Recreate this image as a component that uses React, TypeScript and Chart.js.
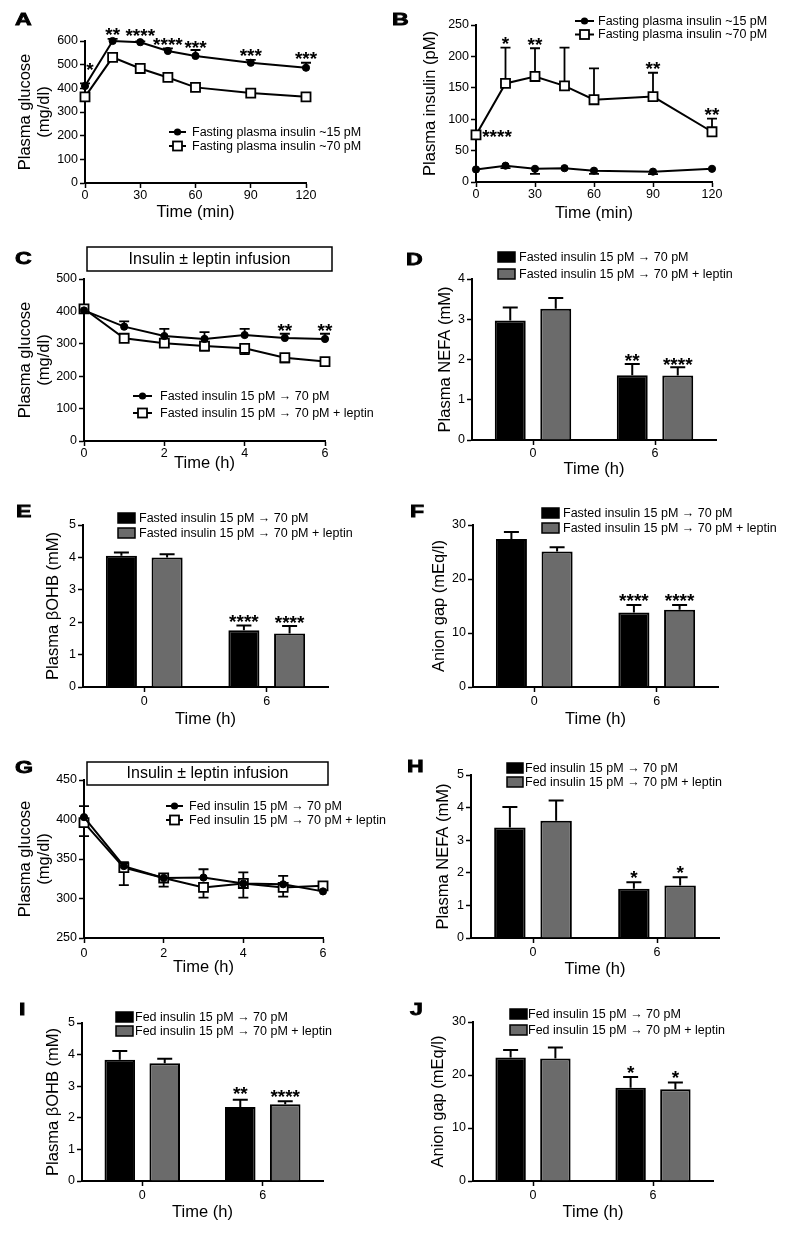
import React, { useEffect, useRef } from 'react';
import { Chart, registerables } from 'chart.js';

Chart.register(...registerables);

const FONT = '"Liberation Sans", Arial, Helvetica, sans-serif';
const GRAY = '#6b6b6b';
Chart.defaults.font.family = FONT;
Chart.defaults.color = '#000';

// ---------------- DATA ----------------
// Panel A (glucose during test, min)
const timeMin = [0, 15, 30, 45, 60, 90, 120];
const aGlucoseLow = [410, 600, 595, 558, 537, 508, 487];
const aGlucoseLowSem = [11, 9, 3, 11, 25, 12, 21];
const aGlucoseHigh = [364, 531, 484, 446, 404, 380, 364];

// Panel B (insulin, pM)
const bInsulinLow = [20, 26, 21, 22, 18, 16.5, 21];
const bInsulinLowSem = [0, 4, 8, 0, 5, 4, 0];
const bInsulinHigh = [75, 157, 168, 153, 131, 136, 80];
const bInsulinHighSem = [0, 57, 45, 61, 50, 38, 21];

// Panel C (fasted, glucose, h)
const timeH = [0, 1, 2, 3, 4, 5, 6];
const cGlucoseIns = [403, 353, 324, 315, 327, 318, 315];
const cGlucoseInsSem = [12, 16, 22, 21, 19, 13, 16];
const cGlucoseLep = [408, 317, 302, 293, 286, 257, 245];
const cGlucoseLepSem = [0, 0, 0, 14, 18, 14, 11];

// Bar categories (h)
const barHours = ['0', '6'];

// Panel D (NEFA, fasted)
const dNefaIns = [2.97, 1.61];
const dNefaInsSem = [0.32, 0.28];
const dNefaLep = [3.26, 1.6];
const dNefaLepSem = [0.27, 0.21];

// Panel E (bOHB, fasted)
const eBohbIns = [4.05, 1.75];
const eBohbInsSem = [0.1, 0.15];
const eBohbLep = [4.0, 1.65];
const eBohbLepSem = [0.1, 0.23];

// Panel F (anion gap, fasted)
const fGapIns = [27.4, 13.8];
const fGapInsSem = [1.3, 1.4];
const fGapLep = [25.1, 14.3];
const fGapLepSem = [0.8, 0.9];

// Panel G (fed, glucose)
const gGlucoseIns = [403, 341, 326, 326.5, 319, 318, 309];
const gGlucoseInsSem = [14, 5, 4, 10.5, 14, 10.6, 0];
const gGlucoseLep = [396, 339, 326, 314, 319, 314, 316];
const gGlucoseLepSem = [17, 22, 11, 13, 18, 11.5, 0];

// Panel H (NEFA, fed)
const hNefaIns = [3.39, 1.51];
const hNefaInsSem = [0.63, 0.2];
const hNefaLep = [3.6, 1.61];
const hNefaLepSem = [0.62, 0.25];

// Panel I (bOHB, fed)
const iBohbIns = [3.84, 2.34];
const iBohbInsSem = [0.27, 0.23];
const iBohbLep = [3.73, 2.43];
const iBohbLepSem = [0.14, 0.09];

// Panel J (anion gap, fed)
const jGapIns = [23.3, 17.6];
const jGapInsSem = [1.4, 2.0];
const jGapLep = [23.1, 17.3];
const jGapLepSem = [2.1, 1.3];

// Labels
const LEG_FAST_15 = 'Fasting plasma insulin ~15 pM';
const LEG_FAST_70 = 'Fasting plasma insulin ~70 pM';
const LEG_FASTED = 'Fasted insulin 15 pM \u2192 70 pM';
const LEG_FASTED_LEP = 'Fasted insulin 15 pM \u2192 70 pM + leptin';
const LEG_FED = 'Fed insulin 15 pM \u2192 70 pM';
const LEG_FED_LEP = 'Fed insulin 15 pM \u2192 70 pM + leptin';
const BANNER = 'Insulin \u00b1 leptin infusion';
const T_GLUCOSE = ['Plasma glucose', '(mg/dl)'];
const T_INSULIN = 'Plasma insulin (pM)';
const T_NEFA = 'Plasma NEFA (mM)';
const T_BOHB = 'Plasma \u03b2OHB (mM)';
const T_GAP = 'Anion gap (mEq/l)';
const T_MIN = 'Time (min)';
const T_H = 'Time (h)';

// ---------------- TYPES ----------------
type Rect = { l: number; t: number; w: number; h: number };
type Box = { l: number; t: number; r: number; b: number };
interface Series {
  label: string;
  data: number[];
  errUp?: number[];
  errDown?: number[];
  marker?: 'circle' | 'square';
  color?: string;
}
interface Star { ds: number; i: number; text: string; dx?: number; dy?: number }
interface PanelSpec {
  letter: string;
  letterPos: [number, number];
  kind: 'line' | 'bar';
  box: Rect;
  plot: Box;
  xValues?: number[];
  xMin?: number;
  xMax?: number;
  xStep?: number;
  categories?: string[];
  yMin: number;
  yMax: number;
  yStep: number;
  yTitle: string | string[];
  xTitle: string;
  yTitleCx: number;
  xTitleCy: number;
  xTickCy: number;
  series: Series[];
  stars: Star[];
  legend: { x0: number; x1: number; tx: number; rows: number[] };
  banner?: Box;
}

// ---------------- PANELS ----------------
const panels: PanelSpec[] = [
  {
    letter: 'A', letterPos: [15, 13], kind: 'line',
    box: { l: 0, t: 0, w: 390, h: 230 }, plot: { l: 85, t: 41, r: 306, b: 183 },
    xValues: timeMin, xMin: 0, xMax: 120, xStep: 30, yMin: 0, yMax: 600, yStep: 100,
    yTitle: T_GLUCOSE, xTitle: T_MIN, yTitleCx: 25, xTitleCy: 212, xTickCy: 194.3,
    series: [
      { label: LEG_FAST_15, data: aGlucoseLow, errUp: aGlucoseLowSem, marker: 'circle' },
      { label: LEG_FAST_70, data: aGlucoseHigh, marker: 'square' },
    ],
    stars: [
      { ds: 0, i: 0, text: '*', dx: 5, dy: -18 },
      { ds: 0, i: 1, text: '**' },
      { ds: 0, i: 2, text: '****', dy: -10 },
      { ds: 0, i: 3, text: '****' },
      { ds: 0, i: 4, text: '***', dy: -6 },
      { ds: 0, i: 5, text: '***' },
      { ds: 0, i: 6, text: '***' },
    ],
    legend: { x0: 169, x1: 186, tx: 192, rows: [132, 146] },
  },
  {
    letter: 'B', letterPos: [392, 13], kind: 'line',
    box: { l: 390, t: 0, w: 397, h: 230 }, plot: { l: 476, t: 25, r: 712, b: 182 },
    xValues: timeMin, xMin: 0, xMax: 120, xStep: 30, yMin: 0, yMax: 250, yStep: 50,
    yTitle: T_INSULIN, xTitle: T_MIN, yTitleCx: 430, xTitleCy: 213, xTickCy: 194.3,
    series: [
      { label: LEG_FAST_15, data: bInsulinLow, errDown: bInsulinLowSem, marker: 'circle' },
      { label: LEG_FAST_70, data: bInsulinHigh, errUp: bInsulinHighSem, marker: 'square' },
    ],
    stars: [
      { ds: 1, i: 0, text: '****', dx: 21, dy: -2 },
      { ds: 1, i: 1, text: '*' },
      { ds: 1, i: 2, text: '**' },
      { ds: 1, i: 5, text: '**' },
      { ds: 1, i: 6, text: '**' },
    ],
    legend: { x0: 575, x1: 594, tx: 598, rows: [21, 34.5] },
  },
  {
    letter: 'C', letterPos: [15, 252], kind: 'line',
    box: { l: 0, t: 230, w: 390, h: 250 }, plot: { l: 84, t: 279, r: 325, b: 441 },
    xValues: timeH, xMin: 0, xMax: 6, xStep: 2, yMin: 0, yMax: 500, yStep: 100,
    yTitle: T_GLUCOSE, xTitle: T_H, yTitleCx: 25, xTitleCy: 463, xTickCy: 450,
    series: [
      { label: LEG_FASTED, data: cGlucoseIns, errUp: cGlucoseInsSem, marker: 'circle' },
      { label: LEG_FASTED_LEP, data: cGlucoseLep, errDown: cGlucoseLepSem, marker: 'square' },
    ],
    stars: [
      { ds: 0, i: 5, text: '**', dy: -7 },
      { ds: 0, i: 6, text: '**', dy: -7 },
    ],
    legend: { x0: 133, x1: 152, tx: 160, rows: [396, 413] },
    banner: { l: 87, t: 247, r: 332, b: 271 },
  },
  {
    letter: 'D', letterPos: [406, 253], kind: 'bar',
    box: { l: 390, t: 230, w: 397, h: 250 }, plot: { l: 472, t: 279, r: 716, b: 440 },
    categories: barHours, yMin: 0, yMax: 4, yStep: 1,
    yTitle: T_NEFA, xTitle: T_H, yTitleCx: 445, xTitleCy: 469, xTickCy: 453.3,
    series: [
      { label: LEG_FASTED, data: dNefaIns, errUp: dNefaInsSem, color: '#000' },
      { label: LEG_FASTED_LEP, data: dNefaLep, errUp: dNefaLepSem, color: GRAY },
    ],
    stars: [
      { ds: 0, i: 1, text: '**', dy: -7 },
      { ds: 1, i: 1, text: '****', dy: -7 },
    ],
    legend: { x0: 498, x1: 515, tx: 519, rows: [257, 274] },
  },
  {
    letter: 'E', letterPos: [16, 505], kind: 'bar',
    box: { l: 0, t: 480, w: 390, h: 255 }, plot: { l: 83, t: 525, r: 328, b: 687 },
    categories: barHours, yMin: 0, yMax: 5, yStep: 1,
    yTitle: T_BOHB, xTitle: T_H, yTitleCx: 53, xTitleCy: 719, xTickCy: 701.7,
    series: [
      { label: LEG_FASTED, data: eBohbIns, errUp: eBohbInsSem, color: '#000' },
      { label: LEG_FASTED_LEP, data: eBohbLep, errUp: eBohbLepSem, color: GRAY },
    ],
    stars: [
      { ds: 0, i: 1, text: '****' },
      { ds: 1, i: 1, text: '****' },
    ],
    legend: { x0: 118, x1: 135, tx: 139, rows: [518, 533] },
  },
  {
    letter: 'F', letterPos: [410, 505], kind: 'bar',
    box: { l: 390, t: 480, w: 397, h: 255 }, plot: { l: 473, t: 525, r: 718, b: 687 },
    categories: barHours, yMin: 0, yMax: 30, yStep: 10,
    yTitle: T_GAP, xTitle: T_H, yTitleCx: 439, xTitleCy: 719, xTickCy: 701.7,
    series: [
      { label: LEG_FASTED, data: fGapIns, errUp: fGapInsSem, color: '#000' },
      { label: LEG_FASTED_LEP, data: fGapLep, errUp: fGapLepSem, color: GRAY },
    ],
    stars: [
      { ds: 0, i: 1, text: '****' },
      { ds: 1, i: 1, text: '****' },
    ],
    legend: { x0: 542, x1: 559, tx: 563, rows: [513, 528] },
  },
  {
    letter: 'G', letterPos: [15, 761], kind: 'line',
    box: { l: 0, t: 735, w: 390, h: 250 }, plot: { l: 84, t: 780, r: 323, b: 938 },
    xValues: timeH, xMin: 0, xMax: 6, xStep: 2, yMin: 250, yMax: 450, yStep: 50,
    yTitle: T_GLUCOSE, xTitle: T_H, yTitleCx: 25, xTitleCy: 967, xTickCy: 953.3,
    series: [
      { label: LEG_FED, data: gGlucoseIns, errUp: gGlucoseInsSem, marker: 'circle' },
      { label: LEG_FED_LEP, data: gGlucoseLep, errDown: gGlucoseLepSem, marker: 'square' },
    ],
    stars: [],
    legend: { x0: 166, x1: 183, tx: 189, rows: [806, 820] },
    banner: { l: 87, t: 762, r: 328, b: 785 },
  },
  {
    letter: 'H', letterPos: [407, 760], kind: 'bar',
    box: { l: 390, t: 735, w: 397, h: 250 }, plot: { l: 471, t: 775, r: 719, b: 938 },
    categories: barHours, yMin: 0, yMax: 5, yStep: 1,
    yTitle: T_NEFA, xTitle: T_H, yTitleCx: 443, xTitleCy: 969, xTickCy: 952.7,
    series: [
      { label: LEG_FED, data: hNefaIns, errUp: hNefaInsSem, color: '#000' },
      { label: LEG_FED_LEP, data: hNefaLep, errUp: hNefaLepSem, color: GRAY },
    ],
    stars: [
      { ds: 0, i: 1, text: '*', dy: -9 },
      { ds: 1, i: 1, text: '*', dy: -9 },
    ],
    legend: { x0: 507, x1: 523, tx: 525, rows: [768, 782] },
  },
  {
    letter: 'I', letterPos: [19, 1003], kind: 'bar',
    box: { l: 0, t: 985, w: 390, h: 254 }, plot: { l: 82, t: 1023, r: 323, b: 1181 },
    categories: barHours, yMin: 0, yMax: 5, yStep: 1,
    yTitle: T_BOHB, xTitle: T_H, yTitleCx: 53, xTitleCy: 1212.7, xTickCy: 1196,
    series: [
      { label: LEG_FED, data: iBohbIns, errUp: iBohbInsSem, color: '#000' },
      { label: LEG_FED_LEP, data: iBohbLep, errUp: iBohbLepSem, color: GRAY },
    ],
    stars: [
      { ds: 0, i: 1, text: '**', dy: -10 },
      { ds: 1, i: 1, text: '****', dy: -9 },
    ],
    legend: { x0: 116, x1: 133, tx: 135, rows: [1017, 1031] },
  },
  {
    letter: 'J', letterPos: [410, 1003], kind: 'bar',
    box: { l: 390, t: 985, w: 397, h: 254 }, plot: { l: 473, t: 1022, r: 713, b: 1181 },
    categories: barHours, yMin: 0, yMax: 30, yStep: 10,
    yTitle: T_GAP, xTitle: T_H, yTitleCx: 438, xTitleCy: 1212.7, xTickCy: 1196,
    series: [
      { label: LEG_FED, data: jGapIns, errUp: jGapInsSem, color: '#000' },
      { label: LEG_FED_LEP, data: jGapLep, errUp: jGapLepSem, color: GRAY },
    ],
    stars: [
      { ds: 0, i: 1, text: '*', dy: -9 },
      { ds: 1, i: 1, text: '*', dy: -9 },
    ],
    legend: { x0: 510, x1: 527, tx: 528, rows: [1014, 1030] },
  },
];

// ---------------- DRAW HELPERS ----------------
const TICK_FONT = 12.5;
const TITLE_FONT = 16.5;
const LEGEND_FONT = 12.5;
const STAR_FONT = 19;
const TICK_LEN = 5;

function drawMarker(ctx: CanvasRenderingContext2D, kind: 'circle' | 'square', x: number, y: number) {
  ctx.save();
  if (kind === 'circle') {
    ctx.fillStyle = '#000';
    ctx.beginPath();
    ctx.arc(x, y, 3.6, 0, Math.PI * 2);
    ctx.fill();
  } else {
    ctx.fillStyle = '#fff';
    ctx.strokeStyle = '#000';
    ctx.lineWidth = 1.8;
    ctx.fillRect(x - 4.5, y - 4.5, 9, 9);
    ctx.strokeRect(x - 4.5, y - 4.5, 9, 9);
  }
  ctx.restore();
}

function decorPlugin(p: PanelSpec) {
  return {
    id: 'decor' + p.letter,
    beforeDatasetsDraw(chart: any) {
      const ctx: CanvasRenderingContext2D = chart.ctx;
      const ys = chart.scales.y;
      ctx.save();
      ctx.strokeStyle = '#000';
      const cap = p.kind === 'bar' ? 7.5 : 5;
      ctx.lineWidth = p.kind === 'bar' ? 2 : 1.8;
      p.series.forEach((s, di) => {
        const meta = chart.getDatasetMeta(di);
        s.data.forEach((v, i) => {
          const el = meta.data[i];
          if (!el) return;
          const x = el.x;
          const y0 = ys.getPixelForValue(v);
          const seg = (val: number) => {
            const yy = ys.getPixelForValue(val);
            ctx.beginPath();
            ctx.moveTo(x, y0);
            ctx.lineTo(x, yy);
            ctx.moveTo(x - cap, yy);
            ctx.lineTo(x + cap, yy);
            ctx.stroke();
          };
          if (s.errUp && s.errUp[i] > 0) seg(v + s.errUp[i]);
          if (s.errDown && s.errDown[i] > 0) seg(v - s.errDown[i]);
        });
      });
      ctx.restore();
    },
    afterDatasetsDraw(chart: any) {
      const ctx: CanvasRenderingContext2D = chart.ctx;
      const ys = chart.scales.y;
      ctx.save();
      ctx.fillStyle = '#000';
      ctx.font = `bold ${STAR_FONT}px ${FONT}`;
      ctx.textAlign = 'center';
      ctx.textBaseline = 'alphabetic';
      p.stars.forEach((st) => {
        const s = p.series[st.ds];
        const el = chart.getDatasetMeta(st.ds).data[st.i];
        if (!el) return;
        const up = s.errUp ? s.errUp[st.i] || 0 : 0;
        const ay = ys.getPixelForValue(s.data[st.i] + up);
        const cx = el.x + (st.dx || 0);
        const cy = ay + (st.dy === undefined ? -8 : st.dy);
        ctx.fillText(st.text, cx, cy + 0.55 * STAR_FONT);
      });
      ctx.restore();
    },
    afterDraw(chart: any) {
      const ctx: CanvasRenderingContext2D = chart.ctx;
      const ox = p.box.l;
      const oy = p.box.t;
      ctx.save();
      // legend
      const lg = p.legend;
      p.series.forEach((s, k) => {
        const y = lg.rows[k] - oy;
        const x0 = lg.x0 - ox;
        const x1 = lg.x1 - ox;
        if (p.kind === 'line') {
          ctx.strokeStyle = '#000';
          ctx.lineWidth = 2;
          ctx.beginPath();
          ctx.moveTo(x0, y);
          ctx.lineTo(x1, y);
          ctx.stroke();
          drawMarker(ctx, s.marker || 'circle', (x0 + x1) / 2, y);
        } else {
          ctx.fillStyle = s.color || '#000';
          ctx.fillRect(x0, y - 5, x1 - x0, 10);
          ctx.strokeStyle = '#000';
          ctx.lineWidth = 1.5;
          ctx.strokeRect(x0, y - 5, x1 - x0, 10);
        }
        ctx.fillStyle = '#000';
        ctx.font = `${LEGEND_FONT}px ${FONT}`;
        ctx.textAlign = 'left';
        ctx.textBaseline = 'middle';
        ctx.fillText(s.label, lg.tx - ox, y + 0.5);
      });
      // banner
      if (p.banner) {
        const b = p.banner;
        ctx.fillStyle = '#fff';
        ctx.fillRect(b.l - ox, b.t - oy, b.r - b.l, b.b - b.t);
        ctx.strokeStyle = '#000';
        ctx.lineWidth = 1.5;
        ctx.strokeRect(b.l - ox, b.t - oy, b.r - b.l, b.b - b.t);
        ctx.fillStyle = '#000';
        ctx.font = `16px ${FONT}`;
        ctx.textAlign = 'center';
        ctx.textBaseline = 'middle';
        ctx.fillText(BANNER, (b.l + b.r) / 2 - ox, (b.t + b.b) / 2 - oy + 0.5);
      }
      ctx.restore();
    },
  };
}

function buildConfig(p: PanelSpec): any {
  const boxR = p.box.l + p.box.w;
  const boxB = p.box.t + p.box.h;
  const tickFont = { family: FONT, size: TICK_FONT };
  const titleFont = { family: FONT, size: TITLE_FONT };
  const grid = {
    display: true, drawOnChartArea: false, drawTicks: true, tickLength: TICK_LEN,
    tickWidth: 1.5, tickColor: '#000', color: '#000',
  };
  const border = { display: true, color: '#000', width: 2 };
  const xTickPad = Math.max(0, p.xTickCy - p.plot.b - TICK_LEN - (TICK_FONT * 1.2) / 2);
  const xTitlePadB = boxB - p.xTitleCy - (TITLE_FONT * 1.2) / 2;
  const yTitlePadT = p.yTitleCx - p.box.l - (TITLE_FONT * 1.2) / 2;
  const yWidth = p.plot.l - p.box.l;
  const xHeight = boxB - p.plot.b;
  const zAxis = p.kind === 'bar' ? 1 : 0;

  const xTitle = { display: true, text: p.xTitle, font: titleFont, color: '#000', padding: { top: 0, bottom: xTitlePadB } };
  const xTicks = { padding: xTickPad, font: tickFont, color: '#000', maxRotation: 0, autoSkip: false };
  const xScale: any = p.kind === 'line'
    ? {
        type: 'linear', min: p.xMin, max: p.xMax,
        ticks: { ...xTicks, stepSize: p.xStep },
        grid, border, title: xTitle, z: zAxis,
        afterFit: (s: any) => { s.height = xHeight; },
      }
    : {
        type: 'category', offset: true,
        ticks: xTicks,
        grid: { ...grid, offset: false }, border, title: xTitle, z: zAxis,
        afterFit: (s: any) => { s.height = xHeight; },
      };
  const yScale: any = {
    type: 'linear', min: p.yMin, max: p.yMax,
    ticks: { stepSize: p.yStep, padding: 2, font: tickFont, color: '#000' },
    grid, border, z: zAxis,
    title: { display: true, text: p.yTitle, font: titleFont, color: '#000', padding: { top: yTitlePadT, bottom: 0 } },
    afterFit: (s: any) => { s.width = yWidth; },
  };

  const datasets = p.series.map((s) => {
    if (p.kind === 'line') {
      const xs = p.xValues || [];
      const isCircle = s.marker === 'circle';
      return {
        label: s.label,
        data: xs.map((x, i) => ({ x, y: s.data[i] })),
        borderColor: '#000', borderWidth: 2,
        backgroundColor: isCircle ? '#000' : '#fff',
        pointStyle: isCircle ? 'circle' : 'rect',
        pointRadius: isCircle ? 3.6 : 6.4,
        pointBorderWidth: isCircle ? 1 : 1.8,
        pointBackgroundColor: isCircle ? '#000' : '#fff',
        pointBorderColor: '#000',
        tension: 0, fill: false, clip: false,
      };
    }
    return {
      label: s.label,
      data: s.data,
      backgroundColor: s.color,
      borderColor: '#000', borderWidth: 2,
      categoryPercentage: 0.746, barPercentage: 0.68,
      clip: false,
    };
  });

  return {
    type: p.kind,
    data: p.kind === 'line' ? { datasets } : { labels: p.categories, datasets },
    options: {
      responsive: false, animation: false, events: [],
      layout: { padding: { left: 0, top: p.plot.t - p.box.t, right: boxR - p.plot.r, bottom: 0 } },
      plugins: { legend: { display: false }, tooltip: { enabled: false }, title: { display: false } },
      scales: { x: xScale, y: yScale },
    },
    plugins: [decorPlugin(p)],
  };
}

function PanelChart({ spec }: { spec: PanelSpec }) {
  const ref = useRef<HTMLCanvasElement>(null);
  useEffect(() => {
    if (!ref.current) return;
    const chart = new Chart(ref.current, buildConfig(spec));
    return () => chart.destroy();
  }, [spec]);
  return (
    <canvas
      ref={ref}
      width={spec.box.w}
      height={spec.box.h}
      style={{ position: 'absolute', left: spec.box.l, top: spec.box.t, width: spec.box.w, height: spec.box.h }}
    />
  );
}

export default function App() {
  return (
    <div style={{ position: 'absolute', left: 0, top: 0, width: 787, height: 1239, background: '#fff', overflow: 'hidden' }}>
      {panels.map((p) => (
        <PanelChart key={p.letter} spec={p} />
      ))}
      {panels.map((p) => (
        <div
          key={'l' + p.letter}
          style={{
            position: 'absolute', left: p.letterPos[0], top: p.letterPos[1] - 2.3,
            fontFamily: FONT, fontWeight: 'bold', fontSize: 16.5, lineHeight: '16px',
            transform: 'scaleX(1.4)', transformOrigin: 'left top', color: '#000',
            WebkitTextStroke: '0.8px #000',
          }}
        >
          {p.letter}
        </div>
      ))}
    </div>
  );
}
